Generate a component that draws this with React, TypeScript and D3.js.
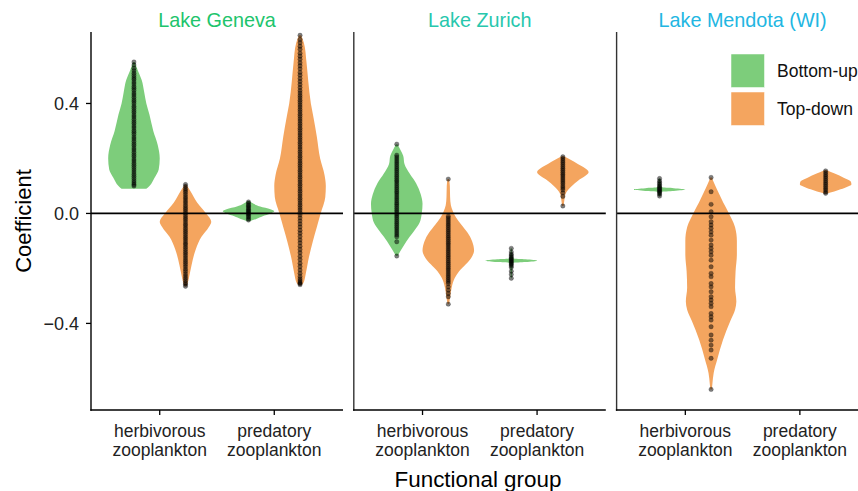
import React from "react";
import * as d3 from "d3";

// ---------- data ----------
const lakes = ["Lake Geneva", "Lake Zurich", "Lake Mendota (WI)"];
const lakeColors = ["#20c46c", "#27c7ad", "#22b6e2"];
const groups = ["herbivorous\nzooplankton", "predatory\nzooplankton"];
const effects = ["Bottom-up", "Top-down"];
const effectColors = ["#7dcd7b", "#f4a55f"];
const yTicks = [0.4, 0.0, -0.4];

// violin profiles: [coefficient, relative half width]
const genevaHerbBUProfile = [[0.551, 0.03], [0.52, 0.15], [0.485, 0.3], [0.44, 0.4], [0.4, 0.48], [0.36, 0.6], [0.3, 0.75], [0.25, 0.92], [0.2, 1.0], [0.16, 0.96], [0.13, 0.8], [0.1, 0.6], [0.09, 0.48]];
const genevaHerbTDProfile = [[0.105, 0.03], [0.08, 0.2], [0.04, 0.45], [0.0, 0.8], [-0.03, 1.0], [-0.05, 0.9], [-0.085, 0.62], [-0.13, 0.4], [-0.19, 0.23], [-0.24, 0.12], [-0.265, 0.05]];
const genevaPredBUProfile = [[0.045, 0.05], [0.035, 0.2], [0.025, 0.45], [0.015, 0.85], [0.008, 1.0], [0.0, 0.85], [-0.01, 0.55], [-0.02, 0.3], [-0.028, 0.05]];
const genevaPredTDProfile = [[0.648, 0.04], [0.62, 0.15], [0.55, 0.25], [0.48, 0.32], [0.4, 0.42], [0.35, 0.52], [0.28, 0.65], [0.2, 0.78], [0.14, 0.95], [0.1, 1.0], [0.06, 0.98], [0.0, 0.8], [-0.05, 0.65], [-0.1, 0.5], [-0.17, 0.32], [-0.22, 0.22], [-0.255, 0.12], [-0.262, 0.02]];
const zurichHerbBUProfile = [[0.252, 0.03], [0.23, 0.15], [0.21, 0.25], [0.18, 0.3], [0.145, 0.5], [0.11, 0.75], [0.07, 0.93], [0.035, 1.0], [0.0, 0.97], [-0.035, 0.88], [-0.06, 0.7], [-0.085, 0.5], [-0.12, 0.25], [-0.14, 0.12], [-0.155, 0.03]];
const zurichHerbTDProfile = [[0.125, 0.03], [0.1, 0.06], [0.06, 0.07], [0.03, 0.1], [0.01, 0.17], [-0.015, 0.3], [-0.04, 0.5], [-0.07, 0.75], [-0.1, 0.92], [-0.135, 1.0], [-0.16, 0.9], [-0.185, 0.68], [-0.21, 0.42], [-0.235, 0.25], [-0.27, 0.13], [-0.3, 0.08], [-0.33, 0.03]];
const zurichPredBUProfile = [[-0.127, 0.02], [-0.15, 0.04], [-0.164, 0.08], [-0.167, 0.55], [-0.172, 1.0], [-0.177, 0.55], [-0.18, 0.08], [-0.2, 0.04], [-0.236, 0.02]];
const zurichPredTDProfile = [[0.208, 0.05], [0.195, 0.3], [0.18, 0.58], [0.165, 0.85], [0.15, 1.0], [0.135, 0.85], [0.12, 0.6], [0.1, 0.35], [0.085, 0.2], [0.07, 0.1], [0.05, 0.06], [0.027, 0.03]];
const mendotaHerbBUProfile = [[0.127, 0.03], [0.11, 0.05], [0.095, 0.08], [0.092, 0.55], [0.087, 1.0], [0.082, 0.55], [0.079, 0.08], [0.07, 0.05], [0.063, 0.03]];
const mendotaHerbTDProfile = [[0.131, 0.03], [0.11, 0.12], [0.073, 0.3], [0.04, 0.47], [0.012, 0.63], [-0.02, 0.8], [-0.05, 0.93], [-0.1, 1.0], [-0.15, 1.0], [-0.21, 0.95], [-0.27, 0.93], [-0.32, 0.98], [-0.35, 0.93], [-0.39, 0.75], [-0.46, 0.46], [-0.53, 0.24], [-0.58, 0.1], [-0.62, 0.05], [-0.64, 0.03]];
const mendotaPredTDProfile = [[0.157, 0.05], [0.145, 0.35], [0.13, 0.7], [0.115, 0.98], [0.105, 1.0], [0.095, 0.8], [0.085, 0.5], [0.075, 0.15], [0.072, 0.03]];

// observed coefficients (points)
const genevaHerbBUDots = [0.551, 0.54, 0.528, 0.519, 0.51, 0.502, 0.494, 0.487, 0.478, 0.471, 0.462, 0.455, 0.447, 0.438, 0.431, 0.423, 0.414, 0.407, 0.399, 0.39, 0.383, 0.374, 0.367, 0.358, 0.351, 0.343, 0.334, 0.327, 0.318, 0.311, 0.302, 0.295, 0.287, 0.278, 0.271, 0.263, 0.254, 0.247, 0.238, 0.231, 0.223, 0.214, 0.207, 0.198, 0.191, 0.183, 0.175, 0.167, 0.159, 0.151, 0.143, 0.135, 0.127, 0.119, 0.112, 0.105, 0.1];
const genevaHerbTDDots = [0.105, 0.098, 0.09, 0.083, 0.076, 0.068, 0.06, 0.053, 0.045, 0.038, 0.03, 0.022, 0.015, 0.007, 0.0, -0.008, -0.016, -0.023, -0.031, -0.039, -0.046, -0.054, -0.062, -0.069, -0.077, -0.085, -0.092, -0.1, -0.108, -0.115, -0.123, -0.131, -0.139, -0.146, -0.154, -0.162, -0.17, -0.178, -0.186, -0.194, -0.203, -0.211, -0.22, -0.228, -0.236, -0.244, -0.252, -0.258, -0.265];
const genevaPredBUDots = [0.042, 0.036, 0.03, 0.025, 0.02, 0.015, 0.01, 0.006, 0.002, -0.003, -0.008, -0.013, -0.019, -0.024];
const genevaPredTDDots = [0.648, 0.633, 0.621, 0.608, 0.597, 0.583, 0.572, 0.561, 0.548, 0.537, 0.526, 0.513, 0.503, 0.491, 0.48, 0.469, 0.458, 0.447, 0.438, 0.429, 0.421, 0.412, 0.404, 0.395, 0.387, 0.378, 0.37, 0.361, 0.353, 0.344, 0.336, 0.327, 0.319, 0.31, 0.302, 0.293, 0.285, 0.276, 0.268, 0.259, 0.251, 0.242, 0.234, 0.225, 0.217, 0.208, 0.2, 0.191, 0.183, 0.174, 0.166, 0.157, 0.149, 0.14, 0.132, 0.123, 0.115, 0.106, 0.098, 0.089, 0.081, 0.072, 0.064, 0.055, 0.047, 0.038, 0.03, 0.021, 0.013, 0.004, -0.005, -0.016, -0.027, -0.038, -0.049, -0.061, -0.072, -0.084, -0.096, -0.107, -0.119, -0.131, -0.143, -0.156, -0.168, -0.181, -0.193, -0.206, -0.218, -0.229, -0.238, -0.245, -0.251, -0.255, -0.259];
const zurichHerbBUDots = [0.252, 0.212, 0.205, 0.198, 0.191, 0.184, 0.177, 0.17, 0.163, 0.156, 0.149, 0.142, 0.135, 0.128, 0.121, 0.115, 0.108, 0.101, 0.094, 0.087, 0.08, 0.074, 0.067, 0.06, 0.053, 0.046, 0.039, 0.033, 0.026, 0.019, 0.012, 0.005, -0.002, -0.008, -0.015, -0.022, -0.029, -0.036, -0.043, -0.05, -0.057, -0.064, -0.071, -0.078, -0.085, -0.103, -0.155];
const zurichHerbTDDots = [0.125, -0.01, -0.017, -0.024, -0.031, -0.038, -0.045, -0.052, -0.059, -0.066, -0.073, -0.08, -0.087, -0.094, -0.101, -0.108, -0.115, -0.122, -0.129, -0.136, -0.143, -0.15, -0.157, -0.164, -0.171, -0.178, -0.185, -0.192, -0.199, -0.206, -0.213, -0.22, -0.227, -0.234, -0.241, -0.248, -0.255, -0.267, -0.279, -0.291, -0.303, -0.33];
const zurichPredBUDots = [-0.127, -0.14, -0.148, -0.154, -0.159, -0.164, -0.168, -0.172, -0.176, -0.18, -0.185, -0.19, -0.196, -0.21, -0.222, -0.236];
const zurichPredTDDots = [0.206, 0.199, 0.192, 0.185, 0.178, 0.171, 0.164, 0.157, 0.15, 0.143, 0.136, 0.129, 0.122, 0.115, 0.108, 0.1, 0.093, 0.086, 0.075, 0.062, 0.027];
const mendotaHerbBUDots = [0.127, 0.118, 0.112, 0.106, 0.1, 0.095, 0.091, 0.087, 0.083, 0.079, 0.075, 0.07, 0.063];
const mendotaHerbTDDots = [0.131, 0.079, 0.033, 0.006, -0.012, -0.03, -0.042, -0.054, -0.067, -0.079, -0.097, -0.115, -0.127, -0.139, -0.152, -0.17, -0.194, -0.218, -0.23, -0.255, -0.267, -0.285, -0.303, -0.315, -0.327, -0.339, -0.364, -0.376, -0.388, -0.412, -0.442, -0.461, -0.479, -0.497, -0.527, -0.64];
const mendotaPredTDDots = [0.155, 0.148, 0.141, 0.134, 0.127, 0.12, 0.113, 0.106, 0.099, 0.092, 0.085, 0.078, 0.073];

const violins = [
  { lake: 0, group: 0, effect: 0, profile: genevaHerbBUProfile, dots: genevaHerbBUDots },
  { lake: 0, group: 0, effect: 1, profile: genevaHerbTDProfile, dots: genevaHerbTDDots },
  { lake: 0, group: 1, effect: 0, profile: genevaPredBUProfile, dots: genevaPredBUDots },
  { lake: 0, group: 1, effect: 1, profile: genevaPredTDProfile, dots: genevaPredTDDots },
  { lake: 1, group: 0, effect: 0, profile: zurichHerbBUProfile, dots: zurichHerbBUDots },
  { lake: 1, group: 0, effect: 1, profile: zurichHerbTDProfile, dots: zurichHerbTDDots },
  { lake: 1, group: 1, effect: 0, profile: zurichPredBUProfile, dots: zurichPredBUDots },
  { lake: 1, group: 1, effect: 1, profile: zurichPredTDProfile, dots: zurichPredTDDots },
  { lake: 2, group: 0, effect: 0, profile: mendotaHerbBUProfile, dots: mendotaHerbBUDots },
  { lake: 2, group: 0, effect: 1, profile: mendotaHerbTDProfile, dots: mendotaHerbTDDots },
  { lake: 2, group: 1, effect: 1, profile: mendotaPredTDProfile, dots: mendotaPredTDDots },
];

// ---------- layout ----------
const W = 858;
const H = 491;
const FONT = "'Liberation Sans', Arial, Helvetica, sans-serif";
const panelLeft0 = 91;
const panelW = 252;
const panelGap = 10.8;
const plotTop = 32;
const plotBottom = 410;

export default function App() {
  const y = d3.scaleLinear().domain([-0.715, 0.66]).range([plotBottom, plotTop]);
  const panelX = (i: number) => panelLeft0 + i * (panelW + panelGap);
  const xScales = lakes.map((_, i) =>
    d3.scaleLinear().domain([0.4, 2.6]).range([panelX(i), panelX(i) + panelW])
  );
  const unit = panelW / 2.2;
  const halfMax = 0.225 * unit;

  return (
    <svg width={W} height={H} style={{ position: "absolute", left: 0, top: 0, background: "#fff" }} fontFamily={FONT}>
      {lakes.map((lake, i) => {
        const x = xScales[i];
        const l = panelX(i);
        const r = l + panelW;
        return (
          <g key={lake}>
            <text x={(l + r) / 2} y={26.5} textAnchor="middle" fontSize={19.8} fill={lakeColors[i]}>
              {lake}
            </text>
            {violins
              .filter((v) => v.lake === i)
              .map((v, k) => {
                const cx = x(v.group + 1) + (v.effect === 0 ? -0.225 : 0.225) * unit;
                const area = d3
                  .area<number[]>()
                  .y((d) => y(d[0]))
                  .x0((d) => cx - d[1] * halfMax)
                  .x1((d) => cx + d[1] * halfMax)
                  .curve(d3.curveMonotoneY);
                return (
                  <g key={k}>
                    <path d={area(v.profile) || ""} fill={effectColors[v.effect]} />
                    {v.dots.map((d, j) => (
                      <circle key={j} cx={cx} cy={y(d)} r={2.2} fill="#000" fillOpacity={0.5} stroke="#000" strokeOpacity={0.45} strokeWidth={0.5} />
                    ))}
                  </g>
                );
              })}
            {/* zero reference line */}
            <line x1={l} x2={r} y1={y(0)} y2={y(0)} stroke="#000" strokeWidth={1.8} />
            {/* axes */}
            <line x1={l} x2={l} y1={plotTop} y2={plotBottom + 0.7} stroke={i === 0 ? "#000" : "#333"} strokeWidth={1.4} />
            <line x1={l - 0.7} x2={r} y1={plotBottom} y2={plotBottom} stroke="#000" strokeWidth={1.4} />
            {groups.map((g, gi) => {
              const gx = x(gi + 1);
              const lines = g.split("\n");
              return (
                <g key={g}>
                  <line x1={gx} x2={gx} y1={plotBottom} y2={plotBottom + 5} stroke="#000" strokeWidth={1.3} />
                  <text x={gx} y={437} textAnchor="middle" fontSize={17.5} fill="#222">
                    {lines.map((t, ti) => (
                      <tspan key={ti} x={gx} dy={ti === 0 ? 0 : 18.7}>
                        {t}
                      </tspan>
                    ))}
                  </text>
                </g>
              );
            })}
          </g>
        );
      })}
      {/* y axis ticks (first panel only) */}
      {yTicks.map((t) => (
        <g key={t}>
          <line x1={panelLeft0 - 5} x2={panelLeft0} y1={y(t)} y2={y(t)} stroke="#000" strokeWidth={1.3} />
          <text x={panelLeft0 - 12} y={y(t)} dy="0.36em" textAnchor="end" fontSize={18} fill="#222">
            {d3.format(".1f")(t).replace("-", "\u2212")}
          </text>
        </g>
      ))}
      <text transform={`translate(31,${(plotTop + plotBottom) / 2}) rotate(-90)`} textAnchor="middle" fontSize={22} fill="#000">
        Coefficient
      </text>
      <text x={478} y={487} textAnchor="middle" fontSize={22.4} fill="#000">
        Functional group
      </text>
      {/* legend */}
      {effects.map((e, i) => (
        <g key={e}>
          <rect x={731} y={54 + i * 38} width={33.5} height={33.5} fill={effectColors[i]} stroke="#fff" strokeWidth={0.5} />
          <text x={777} y={71 + i * 38} dy="0.36em" fontSize={17.5} fill="#111">
            {e}
          </text>
        </g>
      ))}
    </svg>
  );
}
